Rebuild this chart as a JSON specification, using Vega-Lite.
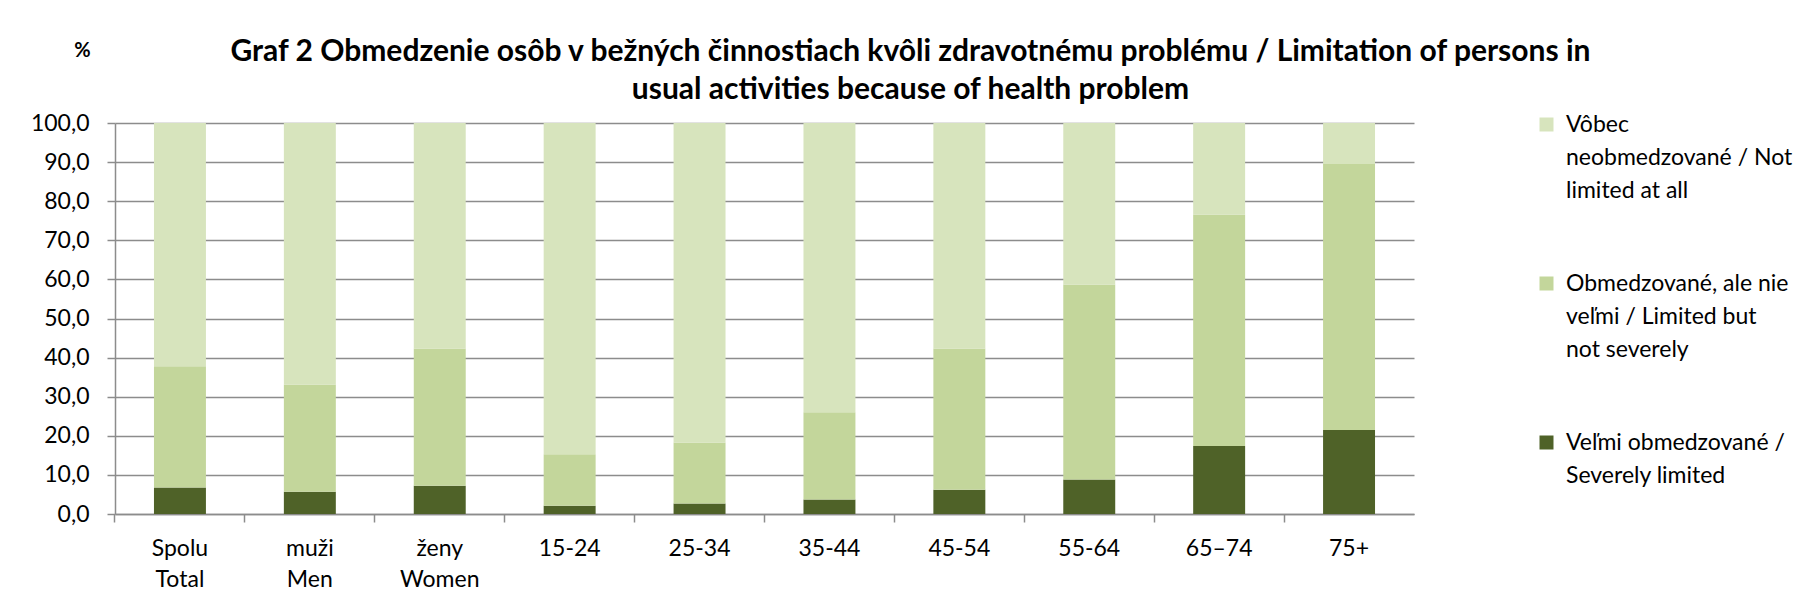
{
  "$schema": "https://vega.github.io/schema/vega-lite/v6.json",
  "width": 1299,
  "height": 391,
  "autosize": {"type": "none"},
  "padding": {"left": 115, "top": 123, "right": 389, "bottom": 96},
  "background": "white",
  "title": {
    "text": ["Graf 2 Obmedzenie osôb v bežných činnostiach kvôli zdravotnému problému / Limitation of persons in", "usual activities because of health problem"],
    "font": "Lato",
    "fontSize": 30,
    "fontWeight": "bold",
    "color": "black",
    "lineHeight": 38,
    "anchor": "middle",
    "frame": "group",
    "dx": 146,
    "offset": -89,
    "baseline": "alphabetic"
  },
  "data": {
    "values": [
      {"g": "Spolu Total", "cat": "Veľmi obmedzované / Severely limited", "k": 1, "v": 6.8},
      {"g": "Spolu Total", "cat": "Obmedzované, ale nie veľmi / Limited but not severely", "k": 2, "v": 31.0},
      {"g": "Spolu Total", "cat": "Vôbec neobmedzované / Not limited at all", "k": 3, "v": 62.2},
      {"g": "muži Men", "cat": "Veľmi obmedzované / Severely limited", "k": 1, "v": 5.7},
      {"g": "muži Men", "cat": "Obmedzované, ale nie veľmi / Limited but not severely", "k": 2, "v": 27.4},
      {"g": "muži Men", "cat": "Vôbec neobmedzované / Not limited at all", "k": 3, "v": 66.9},
      {"g": "ženy Women", "cat": "Veľmi obmedzované / Severely limited", "k": 1, "v": 7.2},
      {"g": "ženy Women", "cat": "Obmedzované, ale nie veľmi / Limited but not severely", "k": 2, "v": 35.1},
      {"g": "ženy Women", "cat": "Vôbec neobmedzované / Not limited at all", "k": 3, "v": 57.7},
      {"g": "15-24", "cat": "Veľmi obmedzované / Severely limited", "k": 1, "v": 2.1},
      {"g": "15-24", "cat": "Obmedzované, ale nie veľmi / Limited but not severely", "k": 2, "v": 13.2},
      {"g": "15-24", "cat": "Vôbec neobmedzované / Not limited at all", "k": 3, "v": 84.7},
      {"g": "25-34", "cat": "Veľmi obmedzované / Severely limited", "k": 1, "v": 2.7},
      {"g": "25-34", "cat": "Obmedzované, ale nie veľmi / Limited but not severely", "k": 2, "v": 15.6},
      {"g": "25-34", "cat": "Vôbec neobmedzované / Not limited at all", "k": 3, "v": 81.7},
      {"g": "35-44", "cat": "Veľmi obmedzované / Severely limited", "k": 1, "v": 3.7},
      {"g": "35-44", "cat": "Obmedzované, ale nie veľmi / Limited but not severely", "k": 2, "v": 22.3},
      {"g": "35-44", "cat": "Vôbec neobmedzované / Not limited at all", "k": 3, "v": 74.0},
      {"g": "45-54", "cat": "Veľmi obmedzované / Severely limited", "k": 1, "v": 6.2},
      {"g": "45-54", "cat": "Obmedzované, ale nie veľmi / Limited but not severely", "k": 2, "v": 36.1},
      {"g": "45-54", "cat": "Vôbec neobmedzované / Not limited at all", "k": 3, "v": 57.7},
      {"g": "55-64", "cat": "Veľmi obmedzované / Severely limited", "k": 1, "v": 8.8},
      {"g": "55-64", "cat": "Obmedzované, ale nie veľmi / Limited but not severely", "k": 2, "v": 49.9},
      {"g": "55-64", "cat": "Vôbec neobmedzované / Not limited at all", "k": 3, "v": 41.3},
      {"g": "65–74", "cat": "Veľmi obmedzované / Severely limited", "k": 1, "v": 17.4},
      {"g": "65–74", "cat": "Obmedzované, ale nie veľmi / Limited but not severely", "k": 2, "v": 59.2},
      {"g": "65–74", "cat": "Vôbec neobmedzované / Not limited at all", "k": 3, "v": 23.4},
      {"g": "75+", "cat": "Veľmi obmedzované / Severely limited", "k": 1, "v": 21.5},
      {"g": "75+", "cat": "Obmedzované, ale nie veľmi / Limited but not severely", "k": 2, "v": 68.0},
      {"g": "75+", "cat": "Vôbec neobmedzované / Not limited at all", "k": 3, "v": 10.5}
    ]
  },
  "mark": {"type": "bar"},
  "encoding": {
    "x": {
      "field": "g",
      "type": "nominal",
      "sort": ["Spolu Total", "muži Men", "ženy Women", "15-24", "25-34", "35-44", "45-54", "55-64", "65–74", "75+"],
      "scale": {"paddingInner": 0.6, "paddingOuter": 0.3},
      "axis": {
        "title": null,
        "labelAngle": 0,
        "labelExpr": "split(datum.label, ' ')",
        "labelFont": "Lato",
        "labelFontSize": 23,
        "labelColor": "black",
        "labelLineHeight": 31,
        "labelPadding": 15,
        "labelBaseline": "top",
        "tickSize": 8,
        "tickColor": "#8c8c8c",
        "tickWidth": 1.5,
        "bandPosition": -0.75,
        "domainColor": "#8c8c8c",
        "domainWidth": 1.5,
        "grid": false
      }
    },
    "y": {
      "field": "v",
      "type": "quantitative",
      "stack": "zero",
      "scale": {"domain": [0, 100], "nice": false},
      "axis": {
        "values": [0, 10, 20, 30, 40, 50, 60, 70, 80, 90, 100],
        "labelExpr": "replace(format(datum.value, '.1f'), '.', ',')",
        "labelFont": "Lato",
        "labelFontSize": 23,
        "labelColor": "black",
        "labelPadding": 18,
        "tickSize": 8,
        "tickColor": "#8c8c8c",
        "tickWidth": 1.5,
        "domainColor": "#8c8c8c",
        "domainWidth": 1.5,
        "grid": true,
        "gridColor": "#8c8c8c",
        "gridWidth": 1.5,
        "title": "%",
        "titleAngle": 0,
        "titleX": -33,
        "titleY": -73,
        "titleAlign": "center",
        "titleBaseline": "middle",
        "titleFont": "Lato",
        "titleFontSize": 20,
        "titleFontWeight": "bold",
        "titleColor": "black"
      }
    },
    "color": {
      "field": "cat",
      "type": "nominal",
      "scale": {
        "domain": ["Vôbec neobmedzované / Not limited at all", "Obmedzované, ale nie veľmi / Limited but not severely", "Veľmi obmedzované / Severely limited"],
        "range": ["#D7E4BD", "#C3D69B", "#4F6228"]
      },
      "legend": {
        "title": null,
        "orient": "none",
        "legendX": 1420,
        "legendY": -10,
        "symbolType": "square",
        "symbolSize": 196,
        "symbolStrokeWidth": 0,
        "labelFont": "Lato",
        "labelFontSize": 23,
        "labelColor": "black",
        "labelLimit": 400,
        "labelOffset": 8,
        "labelBaseline": "middle",
        "rowPadding": 69,
        "labelExpr": "datum.value == 'Vôbec neobmedzované / Not limited at all' ? ['Vôbec', 'neobmedzované / Not', 'limited at all'] : datum.value == 'Obmedzované, ale nie veľmi / Limited but not severely' ? ['Obmedzované, ale nie', 'veľmi / Limited but', 'not severely'] : ['Veľmi obmedzované /', 'Severely limited']"
      }
    },
    "order": {"field": "k", "type": "quantitative"}
  },
  "config": {
    "view": {"stroke": null},
    "font": "Lato",
    "style": {"guide-label": {"lineHeight": 33}}
  }
}
